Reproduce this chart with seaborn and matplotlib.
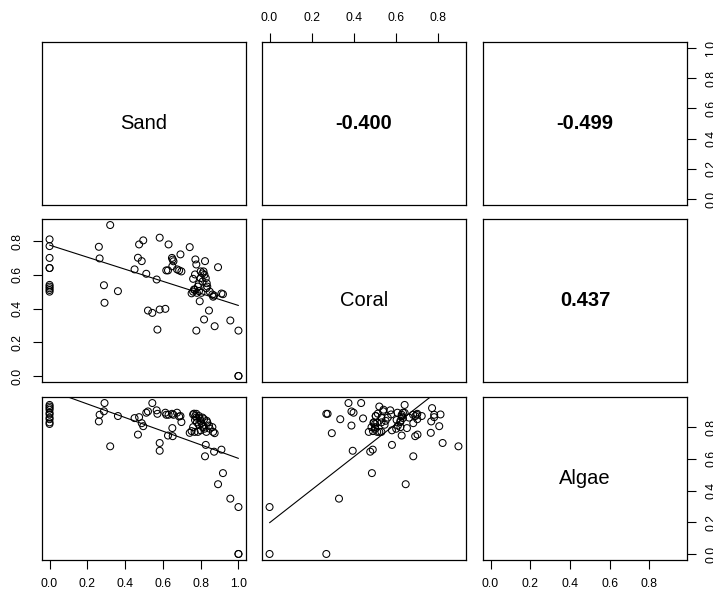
import numpy as np
import matplotlib
matplotlib.use("Agg")
import matplotlib.pyplot as plt
import seaborn as sns

sns.set_style("white")
plt.rcParams['font.family'] = ['Liberation Sans', 'DejaVu Sans']
plt.rcParams['text.color'] = 'black'

variables = ["Sand", "Coral", "Algae"]

sand = [0.0, 0.0, 0.0, 0.0, 0.0, 0.0, 0.0, 0.0, 0.0, 0.0,
        0.261, 0.265, 0.291, 0.288, 0.321, 0.362, 0.450, 0.468, 0.474, 0.488,
        0.496, 0.512, 0.521, 0.544, 0.567, 0.571, 0.583, 0.583, 0.613, 0.618,
        0.627, 0.630, 0.648, 0.652, 0.650, 0.656, 0.675, 0.686, 0.693, 0.698,
        0.742, 0.918, 0.910, 0.892, 0.957, 1.0, 1.0, 0.871, 0.823, 0.827,
        0.760, 0.765, 0.772, 0.777, 0.770, 0.780, 0.777, 0.791, 0.795, 0.800,
        0.804, 0.810, 0.815, 0.818, 0.760, 0.768, 0.785, 0.800, 0.810, 0.820,
        0.832, 0.835, 0.844, 0.848, 0.862, 0.866, 0.874, 0.830, 0.752, 0.790,
        1.0]

coral = [0.81, 0.77, 0.70, 0.64, 0.64, 0.54, 0.53, 0.52, 0.51, 0.50,
         0.766, 0.697, 0.434, 0.538, 0.895, 0.503, 0.632, 0.701, 0.780, 0.681,
         0.804, 0.606, 0.388, 0.374, 0.572, 0.275, 0.820, 0.394, 0.398, 0.626,
         0.626, 0.780, 0.700, 0.690, 0.651, 0.680, 0.632, 0.626, 0.721, 0.620,
         0.764, 0.485, 0.489, 0.645, 0.329, 0.0, 0.269, 0.477, 0.681, 0.580,
         0.576, 0.513, 0.691, 0.661, 0.602, 0.493, 0.269, 0.503, 0.443, 0.620,
         0.493, 0.608, 0.620, 0.335, 0.500, 0.510, 0.530, 0.580, 0.560, 0.600,
         0.550, 0.530, 0.388, 0.500, 0.483, 0.470, 0.295, 0.520, 0.490, 0.545,
         0.0]

algae = [0.88, 0.92, 0.85, 0.94, 0.89, 0.91, 0.86, 0.93, 0.83, 0.82,
         0.836, 0.878, 0.952, 0.900, 0.679, 0.870, 0.857, 0.753, 0.863, 0.825,
         0.806, 0.891, 0.899, 0.952, 0.906, 0.884, 0.700, 0.651, 0.891, 0.878,
         0.747, 0.878, 0.884, 0.743, 0.794, 0.878, 0.891, 0.867, 0.870, 0.832,
         0.764, 0.510, 0.658, 0.440, 0.349, 0.296, 0.0, 0.645, 0.616, 0.688,
         0.880, 0.885, 0.870, 0.860, 0.845, 0.830, 0.884, 0.870, 0.855, 0.840,
         0.825, 0.810, 0.800, 0.850, 0.800, 0.770, 0.770, 0.780, 0.860, 0.790,
         0.840, 0.830, 0.810, 0.790, 0.800, 0.770, 0.762, 0.770, 0.775, 0.815,
         0.0]

# correlation labels shown in the upper panels (row, col)
corr_labels = [["", "-0.400", "-0.499"],
               ["", "", "0.437"],
               ["", "", ""]]

# fitted straight lines shown in the lower panels
# (row, col): intercept, slope
fit_intercepts = [[None, None, None],
                  [0.776, None, None],
                  [1.032, 0.197, None]]
fit_slopes = [[None, None, None],
              [-0.358, None, None],
              [-0.429, 1.041, None]]

data = [np.array(sand), np.array(coral), np.array(algae)]


def limits(v):
    lo, hi = float(np.min(v)), float(np.max(v))
    r = hi - lo
    return lo - 0.04 * r, hi + 0.04 * r


def ticks_for(lim):
    t = np.round(np.arange(0.0, 1.0001, 0.2), 1)
    return [x for x in t if lim[0] <= x <= lim[1]]


W, H = 713, 592
fig = plt.figure(figsize=(W / 100, H / 100), dpi=100)
lefts = [42, 262, 483]
tops = [42, 219, 397]
pw, ph = 204, 163

tick_kw = dict(length=6.3, width=0.8, pad=7, labelsize=8.8, color="black",
               labelcolor="black", direction="out")

for i in range(3):        # row -> y variable
    for j in range(3):    # col -> x variable
        ax = fig.add_axes([lefts[j] / W, 1 - (tops[i] + ph) / H, pw / W, ph / H])
        xlim = limits(data[j])
        ylim = limits(data[i])
        if i > j:
            sns.scatterplot(x=data[j], y=data[i], ax=ax, s=25, marker="o",
                            facecolor="none", edgecolor="black", linewidth=0.75,
                            legend=False)
            xs = np.array([data[j].min(), data[j].max()])
            ys = fit_intercepts[i][j] + fit_slopes[i][j] * xs
            sns.lineplot(x=xs, y=ys, ax=ax, color="black", lw=0.8,
                         estimator=None, sort=False)
            ax.set_xlabel("")
            ax.set_ylabel("")
        elif i == j:
            ax.text(0.5, 0.5, variables[i], transform=ax.transAxes,
                    ha="center", va="center", fontsize=14.5, color="black")
        else:
            ax.text(0.5, 0.5, corr_labels[i][j], transform=ax.transAxes,
                    ha="center", va="center", fontsize=14.5, fontweight="bold",
                    color="black")
        ax.set_xlim(xlim)
        ax.set_ylim(ylim)
        for sp in ax.spines.values():
            sp.set_visible(True)
            sp.set_color("black")
            sp.set_linewidth(0.9)

        ax.tick_params(axis="both", which="both", bottom=False, top=False,
                       left=False, right=False, labelbottom=False, labeltop=False,
                       labelleft=False, labelright=False)
        ax.set_xticks(ticks_for(xlim))
        ax.set_yticks(ticks_for(ylim))
        ax.xaxis.set_major_formatter(matplotlib.ticker.FormatStrFormatter("%.1f"))
        ax.yaxis.set_major_formatter(matplotlib.ticker.FormatStrFormatter("%.1f"))

        if i == 2 and j in (0, 2):
            ax.tick_params(axis="x", bottom=True, labelbottom=True, **tick_kw)
        if i == 0 and j == 1:
            ax.tick_params(axis="x", top=True, labeltop=True, **tick_kw)
        if j == 2 and i in (0, 2):
            ax.tick_params(axis="y", right=True, labelright=True,
                           labelrotation=90, **tick_kw)
        if j == 0 and i == 1:
            ax.tick_params(axis="y", left=True, labelleft=True,
                           labelrotation=90, **tick_kw)
        for lab in ax.get_yticklabels():
            lab.set_verticalalignment("center")

fig.savefig("out.png", dpi=100)
